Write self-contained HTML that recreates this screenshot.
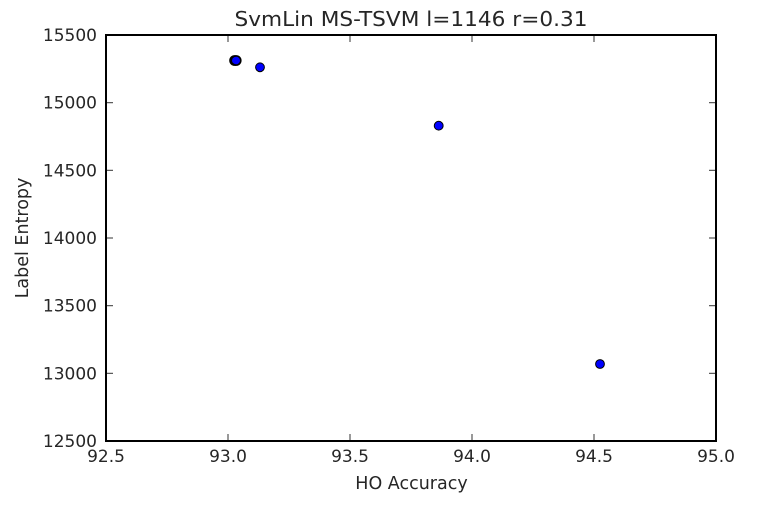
<!DOCTYPE html>
<html>
<head>
<meta charset="utf-8">
<style>
  html,body{margin:0;padding:0;background:#fff;}
  svg{display:block;}
  text{font-family:"DejaVu Sans","Liberation Sans",sans-serif;fill:#262626;}
</style>
</head>
<body>
<svg width="774" height="510" viewBox="0 0 774 510" xmlns="http://www.w3.org/2000/svg">
  <rect x="0" y="0" width="774" height="510" fill="#fff"/>
  <!-- title -->
  <text x="411" y="26" font-size="20.5" text-anchor="middle" textLength="353" lengthAdjust="spacingAndGlyphs">SvmLin MS-TSVM l=1146 r=0.31</text>

  <!-- ticks x (bottom & top, inward) -->
  <g stroke="#333" stroke-width="1">
    <line x1="228" y1="441" x2="228" y2="434"/>
    <line x1="350" y1="441" x2="350" y2="434"/>
    <line x1="472" y1="441" x2="472" y2="434"/>
    <line x1="594" y1="441" x2="594" y2="434"/>
    <line x1="228" y1="35" x2="228" y2="42"/>
    <line x1="350" y1="35" x2="350" y2="42"/>
    <line x1="472" y1="35" x2="472" y2="42"/>
    <line x1="594" y1="35" x2="594" y2="42"/>
    <!-- y ticks -->
    <line x1="106" y1="102.7" x2="113" y2="102.7"/>
    <line x1="106" y1="170.3" x2="113" y2="170.3"/>
    <line x1="106" y1="238" x2="113" y2="238"/>
    <line x1="106" y1="305.7" x2="113" y2="305.7"/>
    <line x1="106" y1="373.3" x2="113" y2="373.3"/>
    <line x1="716" y1="102.7" x2="709" y2="102.7"/>
    <line x1="716" y1="170.3" x2="709" y2="170.3"/>
    <line x1="716" y1="238" x2="709" y2="238"/>
    <line x1="716" y1="305.7" x2="709" y2="305.7"/>
    <line x1="716" y1="373.3" x2="709" y2="373.3"/>
  </g>

  <!-- axes frame -->
  <rect x="106" y="35" width="610" height="406" fill="none" stroke="#000" stroke-width="2"/>

  <!-- x tick labels -->
  <g font-size="17" text-anchor="middle">
    <text x="106" y="462">92.5</text>
    <text x="228" y="462">93.0</text>
    <text x="350" y="462">93.5</text>
    <text x="472" y="462">94.0</text>
    <text x="594" y="462">94.5</text>
    <text x="716" y="462">95.0</text>
  </g>

  <!-- y tick labels -->
  <g font-size="17" text-anchor="end">
    <text x="97" y="41">15500</text>
    <text x="97" y="108.7">15000</text>
    <text x="97" y="176.3">14500</text>
    <text x="97" y="244">14000</text>
    <text x="97" y="311.7">13500</text>
    <text x="97" y="379.3">13000</text>
    <text x="97" y="447">12500</text>
  </g>

  <!-- axis labels -->
  <text x="411.5" y="489" font-size="17.5" text-anchor="middle">HO Accuracy</text>
  <text transform="translate(28,238) rotate(-90)" x="0" y="0" font-size="17.5" text-anchor="middle">Label Entropy</text>

  <!-- points -->
  <g fill="#0000ff" stroke="#000" stroke-width="1">
    <circle cx="234.6" cy="60.5" r="4.6" stroke-width="1.6"/>
    <circle cx="236.2" cy="60.5" r="4.6" stroke-width="1.6"/>
    <circle cx="235.4" cy="60.5" r="3.4" stroke="none"/>
    <circle cx="260" cy="67.3" r="4.4"/>
    <circle cx="438.7" cy="125.7" r="4.4"/>
    <circle cx="600" cy="364" r="4.4"/>
  </g>
</svg>
</body>
</html>
